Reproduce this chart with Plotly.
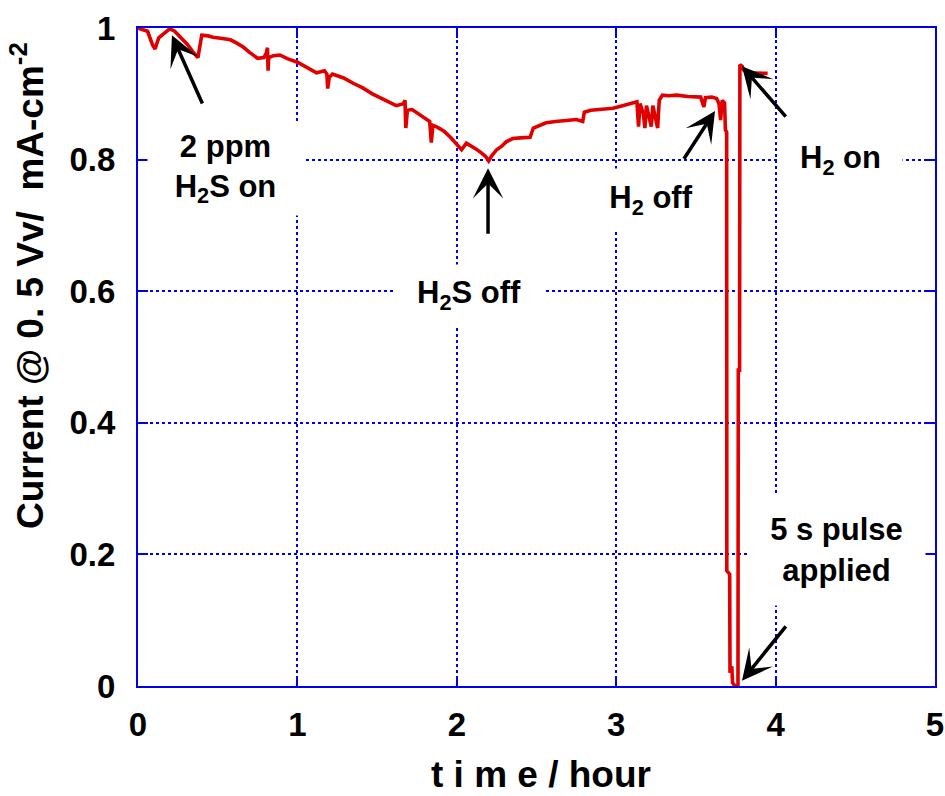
import plotly.graph_objects as go

# Cell current at 0.5 V during H2S exposure and recovery
time_h = [
    0.0, 0.03, 0.06, 0.09, 0.107, 0.13, 0.17, 0.2, 0.23, 0.27, 0.31, 0.35, 0.376, 0.39, 0.40,
    0.44, 0.47, 0.53, 0.58, 0.62, 0.66, 0.70, 0.75, 0.79, 0.805, 0.812, 0.816, 0.82, 0.85,
    0.89, 0.94, 1.0, 1.06, 1.12, 1.17, 1.185, 1.19, 1.20, 1.22, 1.29, 1.35, 1.41, 1.47,
    1.52, 1.56, 1.62, 1.665, 1.675, 1.68, 1.69, 1.72, 1.77, 1.80, 1.83, 1.84, 1.85, 1.88,
    1.92, 1.96, 2.00, 2.03, 2.06, 2.09, 2.12, 2.15, 2.18, 2.20, 2.22, 2.25, 2.28, 2.31,
    2.35, 2.40, 2.46, 2.48, 2.53, 2.56, 2.62, 2.69, 2.75, 2.79, 2.80, 2.84, 2.90, 2.98,
    3.04, 3.11, 3.13, 3.14, 3.15, 3.17, 3.18, 3.19, 3.21, 3.22, 3.23, 3.25, 3.26, 3.27,
    3.29, 3.33, 3.38, 3.45, 3.53, 3.55, 3.56, 3.60, 3.63, 3.645, 3.655, 3.665, 3.68,
    3.685, 3.693, 3.694, 3.712, 3.714, 3.725, 3.73, 3.745, 3.764, 3.766, 3.774, 3.776,
    3.79, 3.80, 3.82, 3.95,
]
current = [
    1.000, 0.998, 0.995, 0.975, 0.968, 0.985, 0.993, 0.999, 0.995, 0.985, 0.975, 0.962, 0.955, 0.975, 0.989,
    0.988, 0.986, 0.984, 0.982, 0.977, 0.971, 0.963, 0.954, 0.955, 0.962, 0.970, 0.935, 0.955, 0.958,
    0.959, 0.953, 0.948, 0.940, 0.932, 0.935, 0.930, 0.908, 0.925, 0.930, 0.924, 0.916, 0.909, 0.900,
    0.894, 0.888, 0.882, 0.885, 0.890, 0.848, 0.875, 0.876, 0.868, 0.862, 0.858, 0.826, 0.852, 0.849,
    0.843, 0.834, 0.823, 0.815, 0.825, 0.821, 0.816, 0.811, 0.805, 0.798, 0.806, 0.815, 0.820, 0.827,
    0.832, 0.833, 0.834, 0.848, 0.853, 0.856, 0.858, 0.860, 0.861, 0.858, 0.872, 0.875, 0.876, 0.878,
    0.882, 0.886, 0.888, 0.850, 0.885, 0.870, 0.848, 0.882, 0.860, 0.850, 0.882, 0.858, 0.848, 0.890,
    0.898, 0.897, 0.898, 0.896, 0.895, 0.880, 0.894, 0.895, 0.893, 0.885, 0.860, 0.890, 0.886,
    0.845, 0.842, 0.175, 0.170, 0.020, 0.030, 0.005, 0.000, 0.000, 0.480, 0.480, 0.944,
    0.942, 0.936, 0.932, 0.931,
]

x_ticks = [0, 1, 2, 3, 4, 5]
y_ticks = [0, 0.2, 0.4, 0.6, 0.8, 1.0]
y_tick_text = ["0", "0.2", "0.4", "0.6", "0.8", "1"]

# Event labels: text, box centre (t, I), box size (px)
labels = [
    ("2 ppm<br>H<sub>2</sub>S on", 0.549, 0.786, 155, 93),
    ("H<sub>2</sub>S off", 2.077, 0.594, 148, 60),
    ("H<sub>2</sub> off", 3.218, 0.739, 92, 62),
    ("H<sub>2</sub> on", 4.410, 0.799, 123, 50),
    ("5 s pulse<br>applied", 4.382, 0.207, 177, 110),
]

# Arrows: head (t, I) and tail (t, I)
arrows = [
    (0.213, 0.989, 0.408, 0.883),
    (2.196, 0.787, 2.196, 0.685),
    (3.620, 0.874, 3.419, 0.799),
    (3.789, 0.942, 4.072, 0.863),
    (3.789, 0.008, 4.072, 0.093),
]

BLUE = "#0000ee"
FONT = "Liberation Sans, Arial, sans-serif"

fig = go.Figure()
fig.add_trace(go.Scatter(
    x=time_h, y=current, mode="lines",
    line=dict(color="#e00000", width=3.6),
    showlegend=False, hoverinfo="skip",
))

axis_common = dict(
    showline=True, linecolor=BLUE, linewidth=2, mirror="ticks",
    ticks="inside", ticklen=10, tickwidth=2, tickcolor=BLUE,
    showgrid=True, gridcolor=BLUE, griddash="dot", gridwidth=1.5,
    zeroline=False, automargin=False,
    tickfont=dict(family=FONT, size=33, color="black", weight="bold"),
)

fig.update_xaxes(range=[0, 5], tickvals=x_ticks, ticklabelstandoff=8, **axis_common)
fig.update_yaxes(range=[0, 1], tickvals=y_ticks, ticktext=y_tick_text,
                 ticklabelstandoff=14, **axis_common)

annotations = []
for text, tx, ty, w, h in labels:
    annotations.append(dict(
        x=tx, y=ty, xref="x", yref="y", text=text, showarrow=False,
        font=dict(family=FONT, size=31, color="black", weight="bold"),
        bgcolor="white", width=w, height=h, borderpad=0,
        xanchor="center", yanchor="middle", align="center",
    ))
for hx, hy, tx, ty in arrows:
    annotations.append(dict(
        x=hx, y=hy, ax=tx, ay=ty, xref="x", yref="y", axref="x", ayref="y",
        text="", showarrow=True, arrowhead=3, arrowsize=1.45, arrowwidth=3.5,
        arrowcolor="black", standoff=0, startstandoff=0,
    ))

# Axis titles
annotations.append(dict(
    x=-0.138, y=0.608, xref="paper", yref="paper", textangle=-90,
    text="Current @ 0. 5 Vv/ &nbsp;mA-cm<sup>-2</sup>", showarrow=False,
    font=dict(family=FONT, size=37, color="black", weight="bold"),
    xanchor="center", yanchor="middle",
))
annotations.append(dict(
    x=0.506, y=-0.135, xref="paper", yref="paper",
    text="t i m e / hour", showarrow=False,
    font=dict(family=FONT, size=37, color="black", weight="bold"),
    xanchor="center", yanchor="middle",
))

fig.update_layout(
    width=945, height=796,
    margin=dict(l=138, r=10, t=28, b=110, autoexpand=False),
    paper_bgcolor="white", plot_bgcolor="white",
    annotations=annotations,
)

fig.write_html("out.html")
